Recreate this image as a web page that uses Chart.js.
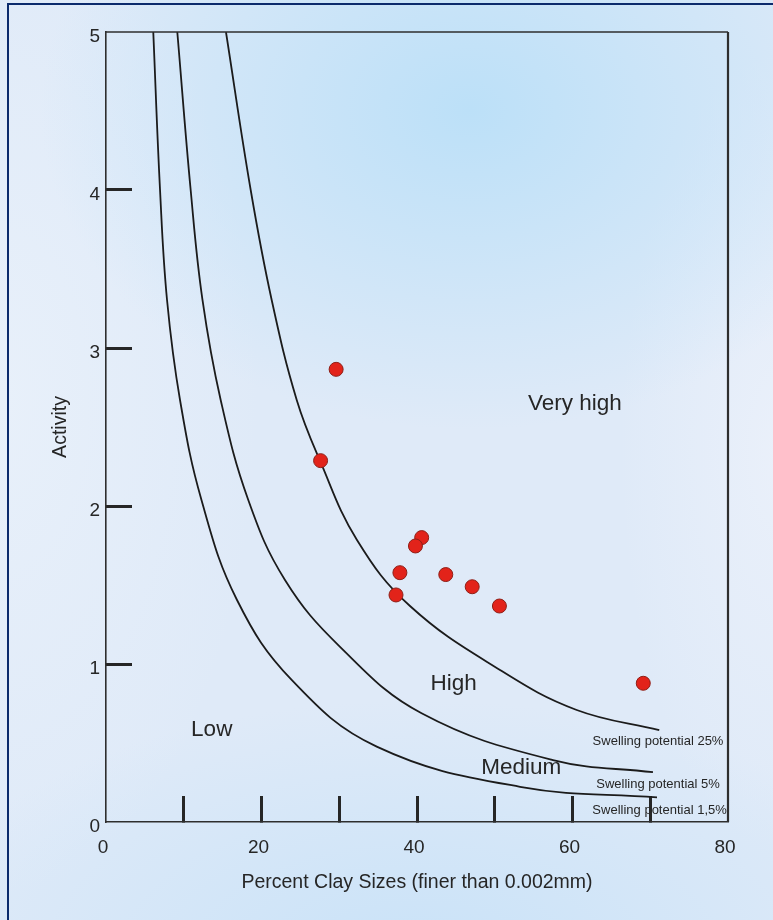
<!DOCTYPE html>
<html><head><meta charset="utf-8">
<script src="https://cdn.jsdelivr.net/npm/chart.js@4.4.1/dist/chart.umd.min.js"></script>
<style>
html,body{margin:0;padding:0;}
body{width:773px;height:920px;overflow:hidden;position:relative;
background:
 radial-gradient(ellipse 430px 320px at 470px 110px, rgba(188,224,248,1), rgba(188,224,248,0)),
 radial-gradient(ellipse 520px 260px at 420px 960px, rgba(200,226,248,0.95), rgba(200,226,248,0)),
 radial-gradient(ellipse 260px 500px at 0px 400px, rgba(232,240,250,1), rgba(232,240,250,0)),
 radial-gradient(ellipse 160px 400px at 780px 450px, rgba(234,240,250,1), rgba(234,240,250,0)),
 #dfeaf8;}
#frame{position:absolute;left:7px;top:3px;width:900px;height:1000px;border-left:2px solid #0b2a6c;border-top:2px solid #0b2a6c;}
canvas{position:absolute;left:0;top:0;}
</style></head><body>
<div id="frame"></div>
<canvas id="c" width="773" height="920"></canvas>
<script>
// Sample points
const sampleClay = [29.6, 27.6, 40.6, 39.8, 37.8, 37.3, 43.7, 47.1, 50.6, 69.1];
const sampleActivity = [2.865, 2.287, 1.80, 1.747, 1.578, 1.437, 1.566, 1.489, 1.367, 0.878];

// Swelling potential 25% curve
const clay25 = [15.43, 18.61, 21.31, 24.53, 27.52, 32.28, 39.10, 50.68, 60.54, 71.16];
const act25  = [5.0, 4.0, 3.304, 2.671, 2.287, 1.785, 1.367, 0.962, 0.709, 0.582];

// Swelling potential 5% curve
const clay5 = [9.17, 10.89, 12.41, 14.75, 18.30, 23.02, 30.10, 40.59, 57.49, 70.35];
const act5  = [5.0, 4.0, 3.304, 2.671, 2.038, 1.532, 1.109, 0.688, 0.392, 0.315];

// Swelling potential 1,5% curve
const clay15 = [6.08, 6.95, 7.85, 9.52, 12.28, 16.85, 23.88, 34.82, 53.25, 70.87];
const act15  = [5.0, 4.0, 3.304, 2.671, 2.038, 1.405, 0.899, 0.477, 0.223, 0.156];

// Tick labels and inner tick marks
const xTickLabels = [0, 20, 40, 60, 80];
const xTickMarks = [10, 20, 30, 40, 50, 60, 70];
const yTickLabels = [0, 1, 2, 3, 4, 5];
const yTickMarks = [1, 2, 3, 4];

// Region / curve labels
const zoneTexts = ['Very high', 'High', 'Medium', 'Low'];
const curveTexts = ['Swelling potential 25%', 'Swelling potential 5%', 'Swelling potential 1,5%'];

const zip = (xs, ys) => xs.map((x, i) => ({x, y: ys[i]}));
const ink = '#262626';
const FONT = '"Liberation Sans", Arial, Helvetica, sans-serif';
Chart.defaults.font.family = FONT;
Chart.defaults.color = ink;

// anchor positions (data units) for annotations
const zoneAnchors = [[60.3, 2.646], [44.7, 0.873], [53.4, 0.345], [13.6, 0.582]];
const curveAnchors = [[71.0, 0.513], [71.0, 0.24], [71.2, 0.073]];

const annotate = {
  id: 'annotate',
  afterDatasetsDraw(chart) {
    const {ctx, chartArea: a, scales: {x, y}} = chart;
    ctx.save();
    ctx.strokeStyle = '#2e2e2e';
    ctx.lineWidth = 1.6;
    ctx.beginPath();
    ctx.moveTo(a.left, a.top); ctx.lineTo(a.right, a.top);
    ctx.stroke();
    ctx.lineWidth = 2.2;
    ctx.beginPath();
    ctx.moveTo(a.right, a.top); ctx.lineTo(a.right, a.bottom);
    ctx.stroke();
    ctx.fillStyle = ink;
    ctx.textAlign = 'center';
    ctx.textBaseline = 'middle';
    ctx.font = '22.5px ' + FONT;
    zoneTexts.forEach((t, i) => ctx.fillText(t, x.getPixelForValue(zoneAnchors[i][0]), y.getPixelForValue(zoneAnchors[i][1])));
    ctx.font = '13px ' + FONT;
    curveTexts.forEach((t, i) => ctx.fillText(t, x.getPixelForValue(curveAnchors[i][0]), y.getPixelForValue(curveAnchors[i][1])));
    ctx.restore();
  }
};

const curveStyle = {showLine: true, pointRadius: 0, pointHoverRadius: 0, borderColor: '#1b1b1b', borderWidth: 1.8, tension: 0.4, fill: false};
const noPad = s => { s.paddingTop = 0; s.paddingBottom = 0; s.paddingLeft = 0; s.paddingRight = 0; };

new Chart(document.getElementById('c'), {
  type: 'scatter',
  data: {datasets: [
    {label: 'Samples', data: zip(sampleClay, sampleActivity), pointRadius: 7, pointHoverRadius: 7,
     backgroundColor: '#e2231a', borderColor: '#8e1e16', borderWidth: 1},
    Object.assign({label: curveTexts[0], data: zip(clay25, act25)}, curveStyle),
    Object.assign({label: curveTexts[1], data: zip(clay5, act5)}, curveStyle),
    Object.assign({label: curveTexts[2], data: zip(clay15, act15)}, curveStyle)
  ]},
  options: {
    responsive: false, animation: false, events: [],
    layout: {padding: {top: 32, right: 45, left: 0, bottom: 0}},
    plugins: {legend: {display: false}, tooltip: {enabled: false}},
    scales: {
      x: {
        type: 'linear', min: 0, max: 80,
        afterFit: s => { s.height = 98; noPad(s); },
        ticks: {stepSize: 10, autoSkip: false, maxRotation: 0, padding: 40.6, labelOffset: -3,
                font: {size: 19}, color: ink,
                callback: v => xTickLabels.includes(v) ? String(v) : ''},
        grid: {drawOnChartArea: false, drawTicks: true, tickLength: -26, tickWidth: 3,
               tickColor: c => xTickMarks.includes(c.tick && c.tick.value) ? ink : 'rgba(0,0,0,0)'},
        border: {display: true, color: '#2e2e2e', width: 1.6},
        title: {display: true, text: 'Percent Clay Sizes (finer than 0.002mm)', font: {size: 19.5}, color: ink,
                padding: {top: 0, bottom: 25.3}}
      },
      y: {
        type: 'linear', min: 0, max: 5,
        afterFit: s => { s.width = 106; noPad(s); },
        ticks: {stepSize: 1, autoSkip: false, padding: 32, labelOffset: 4.5,
                font: {size: 19}, color: ink,
                callback: v => yTickLabels.includes(v) ? String(v) : ''},
        grid: {drawOnChartArea: false, drawTicks: true, tickLength: -26, tickWidth: 3,
               tickColor: c => yTickMarks.includes(c.tick && c.tick.value) ? ink : 'rgba(0,0,0,0)'},
        border: {display: true, color: '#2e2e2e', width: 1.6},
        title: {display: true, text: 'Activity', font: {size: 19.5}, color: ink, padding: {top: 49, bottom: 0}}
      }
    }
  },
  plugins: [annotate]
});
</script>
</body></html>
